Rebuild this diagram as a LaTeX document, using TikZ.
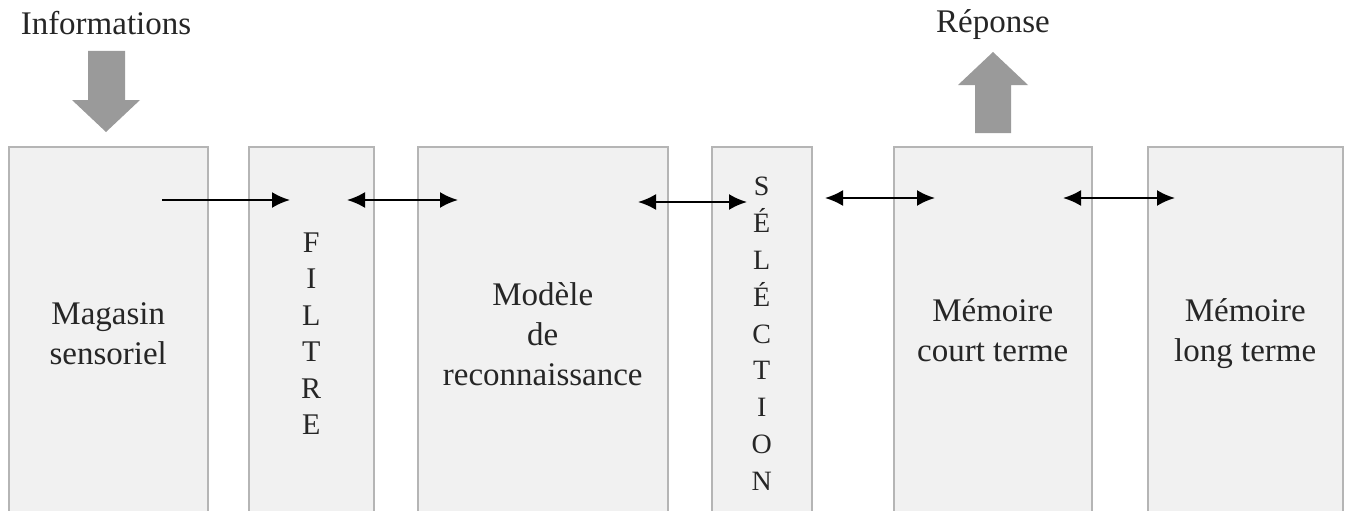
\documentclass[tikz,border=0pt]{standalone}
\usepackage{fontspec}
\setmainfont{Liberation Serif}
\usetikzlibrary{arrows.meta}
\definecolor{boxfill}{HTML}{F1F1F1}
\definecolor{boxline}{HTML}{B5B5B5}
\definecolor{bigarrow}{HTML}{9A9A9A}
\definecolor{txt}{HTML}{262626}
\begin{document}
\begin{tikzpicture}[x=1pt,y=-1pt,
  stage/.style={draw=boxline, line width=1.5pt, fill=boxfill, rectangle, anchor=north west,
    minimum height=374pt, inner sep=0pt, align=center, text=txt,
    font=\fontsize{33}{40}\selectfont},
  letters/.style={font=\fontsize{30}{36.5}\selectfont},
  letters2/.style={font=\fontsize{28}{36.8}\selectfont},
  title/.style={text=txt, font=\fontsize{33}{40}\selectfont, inner sep=0pt},
  tip/.tip={Latex[length=18pt,width=16pt]},
  flow/.style={line width=2.2pt, -tip},
  flowboth/.style={line width=2.2pt, tip-tip},
  bigarr/.style={fill=bigarrow, draw=none}]
\useasboundingbox (0,0) rectangle (1346,511);
\clip (0,0) rectangle (1346,511);

% stages
\node[stage, minimum width=199pt] (mag) at (8,146) {Magasin\\sensoriel};
\node[stage, minimum width=125pt, letters] (fil) at (248,146) {F\\I\\L\\T\\R\\E};
\node[stage, minimum width=250pt] (mod) at (417,146) {Modèle\\de\\reconnaissance};
\node[stage, minimum width=100pt, letters2] (sel) at (711,146) {S\\É\\L\\É\\C\\T\\I\\O\\N};
\node[stage, minimum width=198pt] (mct) at (893,146) {Mémoire\\court terme\vphantom{g}};
\node[stage, minimum width=195pt] (mlt) at (1147,146) {Mémoire\\long terme};

% titles
\node[title] (info) at (106,23) {Informations};
\node[title] (rep) at (993,25) {Réponse};

% big gray arrows
\fill[bigarr] (88,51) -- (125,51) -- (125,100) -- (140,100) -- (106,132) -- (72,100) -- (88,100) -- cycle;
\fill[bigarr] (975,133) -- (1011,133) -- (1011,85) -- (1028,85) -- (993,52) -- (958,85) -- (975,85) -- cycle;

% connector end points
\coordinate (a1s) at (162,200);
\coordinate (a1e) at (290,200);
\coordinate (a2s) at (347,200);
\coordinate (a2e) at (458,200);
\coordinate (a3s) at (638,202);
\coordinate (a3e) at (747,202);
\coordinate (a4s) at (825,198);
\coordinate (a4e) at (935,198);
\coordinate (a5s) at (1063,198);
\coordinate (a5e) at (1175,198);

\draw[flow] (a1s) -- (a1e);
\draw[flowboth] (a2s) -- (a2e);
\draw[flowboth] (a3s) -- (a3e);
\draw[flowboth] (a4s) -- (a4e);
\draw[flowboth] (a5s) -- (a5e);
\end{tikzpicture}
\end{document}
